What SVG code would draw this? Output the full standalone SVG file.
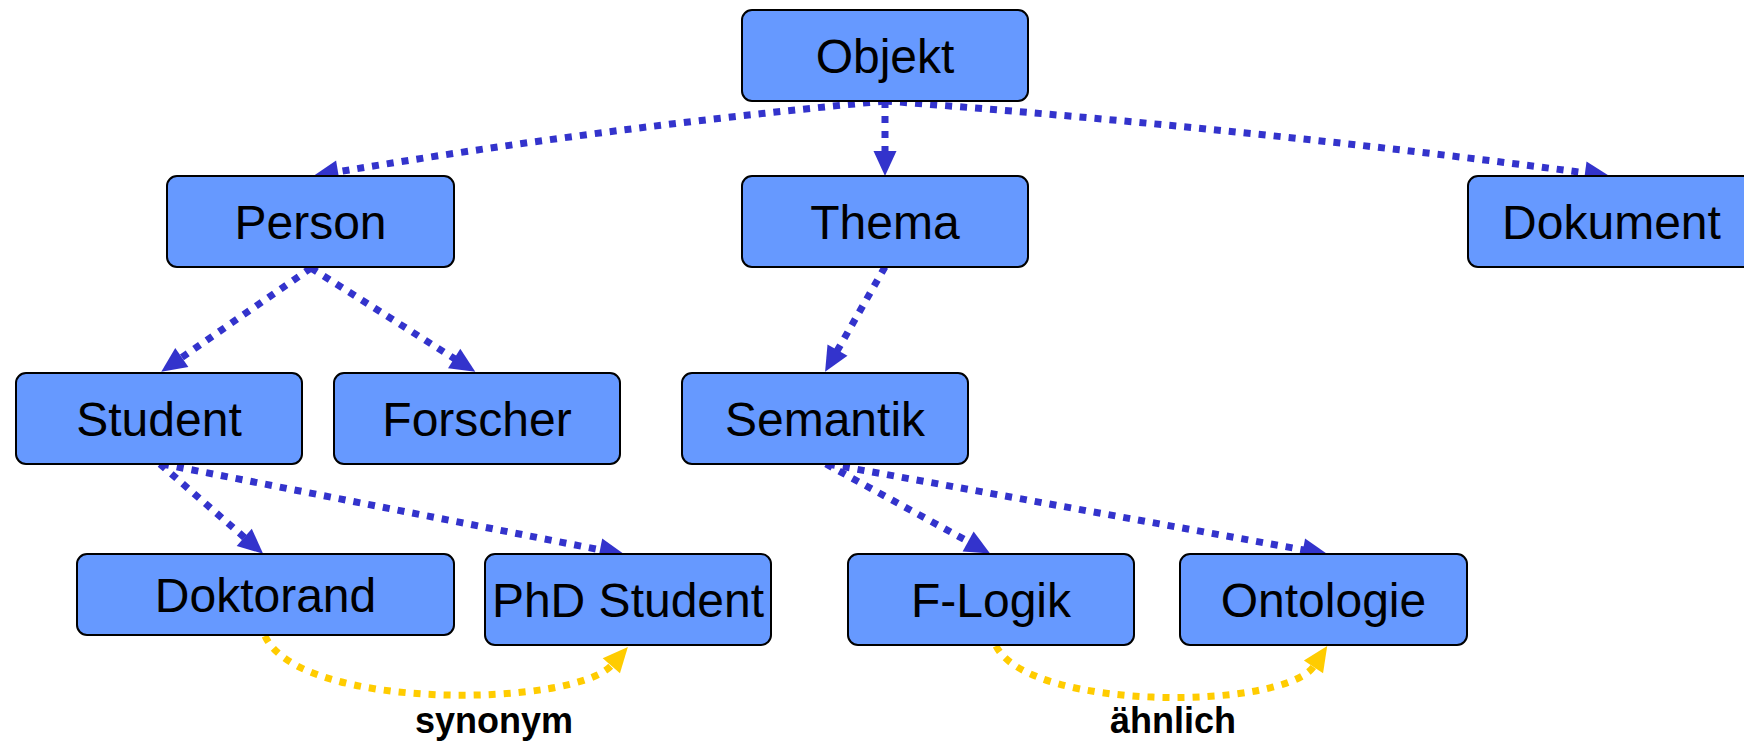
<svg xmlns="http://www.w3.org/2000/svg" width="1744" height="744" viewBox="0 0 1744 744">
<style>
.box{fill:#6699FF;stroke:#000;stroke-width:2}
.lbl{font-family:"Liberation Sans",Arial,sans-serif;font-size:48px;fill:#000;text-anchor:middle}
.rel{font-family:"Liberation Sans",Arial,sans-serif;font-size:36px;font-weight:bold;fill:#000;text-anchor:middle}
.isa{fill:none;stroke:#3333CC;stroke-width:7;stroke-dasharray:7 8;marker-end:url(#ab)}
.sim{fill:none;stroke:#FFCC00;stroke-width:7;stroke-dasharray:7 8;marker-end:url(#ay)}
</style>
<defs>
<marker id="ab" markerUnits="userSpaceOnUse" markerWidth="25" markerHeight="23" viewBox="0 0 25 23" refX="1" refY="11.5" orient="auto" overflow="visible"><path d="M0,0 L25,11.5 L0,23 Z" fill="#3333CC"/></marker>
<marker id="ay" markerUnits="userSpaceOnUse" markerWidth="25" markerHeight="23" viewBox="0 0 25 23" refX="1" refY="11.5" orient="auto" overflow="visible"><path d="M0,0 L25,11.5 L0,23 Z" fill="#FFCC00"/></marker>
</defs>
<rect width="1744" height="744" fill="#fff"/>
<g id="connectors">
<path class="isa" d="M885,101 Q600,128 337,172"/>
<path class="isa" d="M885,101 L885,152"/>
<path class="isa" d="M885,101 Q1247,128 1586,173"/>
<path class="isa" d="M311,268 L181,358"/>
<path class="isa" d="M311,268 L455,359"/>
<path class="isa" d="M885,267 L837,351"/>
<path class="isa" d="M160,464 L245,538"/>
<path class="isa" d="M162,464 L601,550"/>
<path class="isa" d="M826,464 L969,542"/>
<path class="isa" d="M828,464 L1304,550"/>
<path class="sim" d="M265,636 C300,712 575,707 612,665"/>
<path class="sim" d="M996,646 C1030,712 1285,710 1314,666"/>
</g>
<g id="objekt"><rect class="box" x="742" y="10" width="286" height="91" rx="10"/><text class="lbl" x="885" y="72.5">Objekt</text></g>
<g id="person"><rect class="box" x="167" y="176" width="287" height="91" rx="10"/><text class="lbl" x="310.5" y="238.5">Person</text></g>
<g id="thema"><rect class="box" x="742" y="176" width="286" height="91" rx="10"/><text class="lbl" x="885" y="238.5">Thema</text></g>
<g id="dokument"><rect class="box" x="1468" y="176" width="287" height="91" rx="10"/><text class="lbl" x="1611.5" y="238.5">Dokument</text></g>
<g id="student"><rect class="box" x="16" y="373" width="286" height="91" rx="10"/><text class="lbl" x="159" y="435.5">Student</text></g>
<g id="forscher"><rect class="box" x="334" y="373" width="286" height="91" rx="10"/><text class="lbl" x="477" y="435.5">Forscher</text></g>
<g id="semantik"><rect class="box" x="682" y="373" width="286" height="91" rx="10"/><text class="lbl" x="825" y="435.5">Semantik</text></g>
<g id="doktorand"><rect class="box" x="77" y="554" width="377" height="81" rx="10"/><text class="lbl" x="265.5" y="612">Doktorand</text></g>
<g id="phdstudent"><rect class="box" x="485" y="554" width="286" height="91" rx="10"/><text class="lbl" x="628" y="617">PhD Student</text></g>
<g id="flogik"><rect class="box" x="848" y="554" width="286" height="91" rx="10"/><text class="lbl" x="991" y="617">F-Logik</text></g>
<g id="ontologie"><rect class="box" x="1180" y="554" width="287" height="91" rx="10"/><text class="lbl" x="1323.5" y="617">Ontologie</text></g>
<g id="labels"><text class="rel" x="494" y="733">synonym</text><text class="rel" x="1173" y="733">ähnlich</text></g>
</svg>
